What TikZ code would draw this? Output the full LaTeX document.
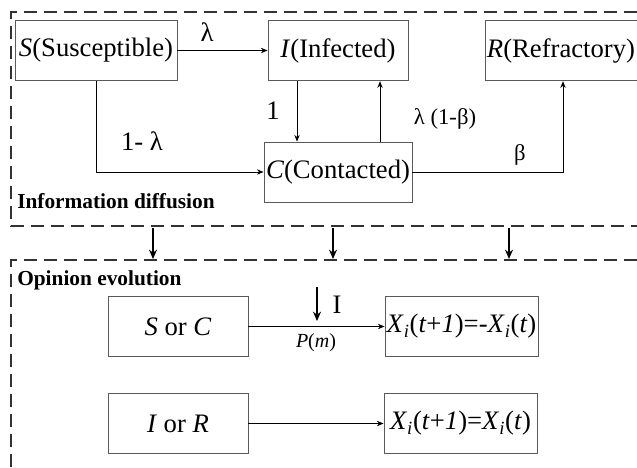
\documentclass[tikz,border=0pt]{standalone}
\usepackage{fontspec}
\setmainfont{Liberation Serif}
\usetikzlibrary{arrows.meta,positioning,calc}
\definecolor{boxgray}{RGB}{90,90,90}
\definecolor{dashgray}{RGB}{50,50,50}

\begin{document}
\begin{tikzpicture}[x=0.75pt,y=-0.75pt,
  state/.style={draw=boxgray, line width=0.6pt, minimum height=45.5pt, inner xsep=1pt,
                align=center, font=\fontsize{20}{24}\selectfont},
  lbl/.style={inner sep=0pt, font=\fontsize{20}{24}\selectfont},
  smalllbl/.style={inner sep=0pt, font=\fontsize{17}{20}\selectfont},
  layer/.style={draw=dashgray, line width=1.1pt, dash pattern=on 9.5pt off 5.5pt},
  title/.style={anchor=base west, inner sep=0pt, font=\fontsize{16}{19}\selectfont\bfseries},
  arr/.style={-{Stealth[length=5pt,width=4pt]}, line width=0.6pt},
  bigarr/.style={-{Stealth[length=7pt,width=6pt]}, line width=1.3pt}
]
  \useasboundingbox (0,0) rectangle (637,468);

  % Information diffusion layer
  \draw[layer] (637,12) -- (11,12) -- (11,226) -- (637,226);
  \node[title] (difftitle) at (17,208) {Information diffusion};

  \node[state, minimum width=121.5pt] (sus) at (96,50.5)    {\textit{S}(Susceptible)};
  \node[state, minimum width=105pt]   (inf) at (338,50.5)   {\textit{I}(Infected)};
  \node[state, minimum width=114pt]   (ref) at (561,50.5)   {\textit{R}(Refractory)};
  \node[state, minimum width=111pt, minimum height=45pt] (con) at (338,172) {\textit{C}(Contacted)};

  \draw[arr] (sus.east) -- (inf.west);
  \draw[arr] (sus.south) |- (con.west);
  \draw[arr] (297,0 |- inf.south) -- (297,0 |- con.north);
  \draw[arr] (380,0 |- con.north) -- (380,0 |- inf.south);
  \draw[arr] (con.east) -| (563,0 |- ref.south);

  \node[lbl] (lam)     at (207,32)  {λ};
  \node[lbl] (one)     at (273,111) {1};
  \node[lbl] (onelam)  at (142,141) {1- λ};
  \node[smalllbl] (lamb) at (445,119) {λ (1-β)};
  \node[smalllbl] (bet)  at (520,155) {β};

  % arrows between the layers
  \foreach \x/\name in {153/a,333/b,509/c}{
    \coordinate (top\name) at (\x,228);
    \coordinate (bot\name) at (\x,259);
    \draw[bigarr] (top\name) -- (bot\name);
  }

  % Opinion evolution layer
  \draw[layer] (637,260) -- (11,260) -- (11,470);
  \node[title] (opintitle) at (17,285.5) {Opinion evolution};

  \node[state, minimum width=105pt]    (sorc) at (178,326.5)   {\textit{S} or \textit{C}};
  \node[state, minimum width=114.75pt] (flip) at (461.5,326.5) {\textit{X}\textsubscript{\textit{i}}(\textit{t}+\textit{1})=-\textit{X}\textsubscript{\textit{i}}(\textit{t})};
  \node[state, minimum width=105pt]    (iorr) at (178,423.5)   {\textit{I} or \textit{R}};
  \node[state, minimum width=114.75pt] (keep) at (460.5,423.5) {\textit{X}\textsubscript{\textit{i}}(\textit{t}+\textit{1})=\textit{X}\textsubscript{\textit{i}}(\textit{t})};

  \draw[arr] (sorc.east) -- (flip.west);
  \draw[arr] (iorr.east) -- (keep.west);

  \coordinate (itop) at (317,287);
  \coordinate (itip) at (317,321);
  \draw[bigarr] (itop) -- (itip);
  \node[lbl] (ilbl) at (337,305) {I};
  \node[inner sep=0pt, font=\fontsize{15}{18}\selectfont] (pm) at (316,343) {\textit{P}(\textit{m})};
\end{tikzpicture}
\end{document}
